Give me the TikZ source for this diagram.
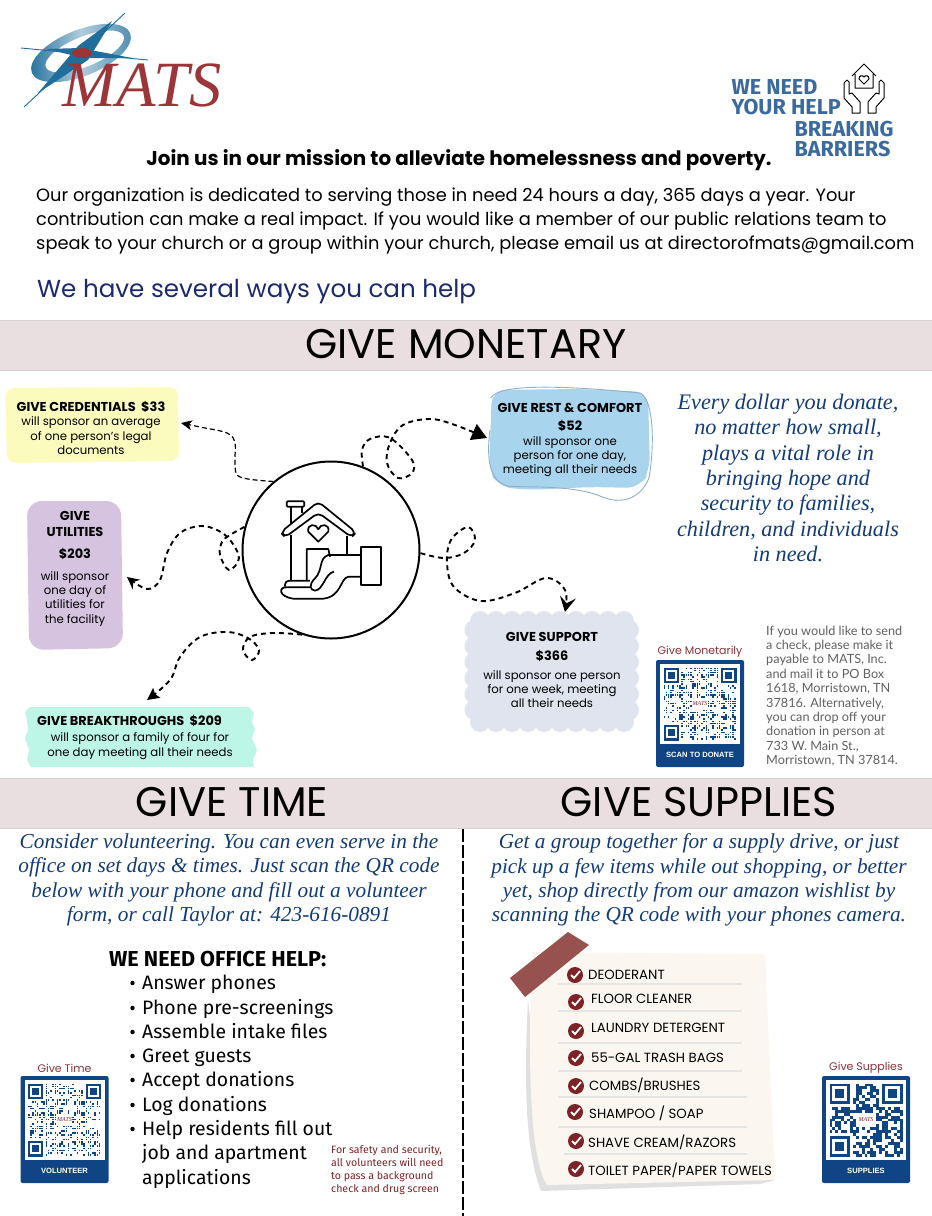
\documentclass[tikz,border=0pt]{standalone}
\usepackage{fontspec}
\setmainfont{Poppins}
\newfontfamily\handfont{Liberation Serif}
\newfontfamily\officefont{Fira Sans}
\newfontfamily\checkfont{Lato}
\newfontfamily\capfont{Liberation Sans}
\usetikzlibrary{arrows.meta}

\definecolor{bandpink}{HTML}{E9DEE0}
\definecolor{bandline}{HTML}{D4D2D3}
\definecolor{navy}{HTML}{123B78}
\definecolor{waysblue}{HTML}{1B2A6E}
\definecolor{logoblue}{HTML}{3A6A9E}
\definecolor{ringblue}{HTML}{1F6E9C}
\definecolor{qrblue}{HTML}{0F4585}
\definecolor{maroon}{HTML}{8A3238}
\definecolor{matsred}{HTML}{9C3537}
\definecolor{tapered}{HTML}{97514F}
\definecolor{paper}{HTML}{FBF7F0}
\definecolor{checkred}{HTML}{7D2328}
\definecolor{credyellow}{HTML}{FBFBBE}
\definecolor{utilpurple}{HTML}{D5C3E0}
\definecolor{mintgreen}{HTML}{BDF5E6}
\definecolor{restblue}{HTML}{A8D4EE}
\definecolor{cloudgrey}{HTML}{DFE4EF}

\newcommand{\boxhead}[1]{{\bfseries\fontsize{12.9}{15}\selectfont #1}}

\tikzset{
    band/.style = {fill = bandpink, draw = bandline, line width = 1pt},
    bandtext/.style = {font = \fontsize{41.4}{48}\selectfont, text = black},
    boxtext/.style = {font = \fontsize{11.7}{14.2}\selectfont, align = center, text = black},
    handtext/.style = {font = \handfont\itshape\fontsize{22.2}{25.3}\selectfont, align = center, text = navy},
    handwide/.style = {font = \handfont\itshape\fontsize{21.3}{24.3}\selectfont, align = center, text = navy},
    logotext/.style = {font = \officefont\bfseries\fontsize{21.6}{21}\selectfont, text = logoblue, anchor = west},
    dashpath/.style = {draw = black, line width = 1.9pt, dash pattern = on 5pt off 4pt},
    thinpath/.style = {draw = black, line width = 1.2pt, dash pattern = on 5pt off 3pt},
    iconline/.style = {draw = black, line width = 1.7pt, line join = round, fill = none},
    needle/.style = {draw = ringblue, line width = 0.9pt},
}

\newcommand{\qrfinder}[3]{%
    \fill[qrblue] (#1,#2) rectangle ++(7*#3,7*#3);
    \fill[white] (#1+#3,#2+#3) rectangle ++(5*#3,5*#3);
    \fill[qrblue] (#1+2*#3,#2+2*#3) rectangle ++(3*#3,3*#3);
}

% name, x, y, title, caption, seed, modules, density, dot size
\newcommand{\qrcard}[9]{%
    \fill[qrblue, rounded corners = 2pt] (#2,#3) rectangle ++(88,107);
    \fill[white] (#2+4,#3+4) rectangle ++(80,80);
    \pgfmathsetseed{#6}
    \pgfmathsetmacro{\qrm}{73/#7}
    \foreach \r in {0,...,\numexpr#7-1\relax} {
        \foreach \c in {0,...,\numexpr#7-1\relax} {
            \pgfmathtruncatemacro{\qrdot}{(rnd<#8)&&!((\r<8&&\c<8)||(\r<8&&\c>#7-9)||(\r>#7-9&&\c<8)||(abs(\r-(#7-1)/2)<3&&abs(\c-(#7-1)/2)<4))}
            \ifnum\qrdot=1
                \fill[qrblue] (#2+7.5+\c*\qrm,#3+7.5+\r*\qrm) rectangle ++(\qrm*#9,\qrm*#9);
            \fi
        }
    }
    \qrfinder{#2+7.5}{#3+7.5}{\qrm}
    \qrfinder{#2+80.5-7*\qrm}{#3+7.5}{\qrm}
    \qrfinder{#2+7.5}{#3+80.5-7*\qrm}{\qrm}
    \node (#1logo) at (#2+44,#3+44) [font = \handfont\itshape\fontsize{6}{6}\selectfont, text = checkred, inner sep = 0pt] {MATS};
    \node (#1title) at (#2+44,#3-8) [font = \fontsize{11}{13}\selectfont, text = maroon, inner sep = 0pt] {#4};
    \node (#1cap) at (#2+44,#3+95) [font = \capfont\bfseries\fontsize{7.6}{9}\selectfont, text = white, inner sep = 0pt] {#5};
}

\begin{document}
\begin{tikzpicture}[x = 1pt, y = -1pt]

    \useasboundingbox (0, 0) rectangle (932, 1216);

    % logo
    \shade[even odd rule, left color = ringblue, right color = ringblue!80!white, middle color = ringblue!35!white, rotate around = {22:(81,53)}] (81,53) ellipse (53 and 23) (85,53) ellipse (42 and 15);
    \draw[needle] (125,13) -- (24,107);
    \draw[needle] (21,48) -- (148,60);
    \fill[ringblue] (78,46) -- (112,21) -- (88,60) -- (38,93) -- cycle;
    \fill[ringblue] (46,49) -- (80,48) -- (132,58) -- (84,58) -- cycle;
    \fill[matsred] (82,53) ellipse (10 and 5);
    \node (matslogo) at (142,85) [font = \handfont\itshape\fontsize{64.5}{64}\selectfont, text = matsred, inner sep = 0pt] {MATS};

    \node (needa) at (728,87) [logotext] {WE NEED};
    \node (needb) at (728,107) [logotext] {YOUR HELP};
    \node (breaka) at (791,129) [logotext] {BREAKING};
    \node (breakb) at (791,149) [logotext] {BARRIERS};
    \draw[black, line width = 1pt, line join = round] (852,76) -- (864,64) -- (876,76) (855,74) -- (855,88) -- (873,88) -- (873,74);
    \draw[black, line width = 1pt] (864,84) -- (859,79) .. controls (859,75) and (863,75) .. (864,77) .. controls (865,75) and (869,75) .. (869,79) -- cycle;
    \draw[black, line width = 1pt, line join = round] (847,80) -- (844,83) -- (844,98) -- (852,107) -- (852,113) -- (860,113) -- (860,102) -- (852,93) -- (849,94) -- (849,82) -- cycle;
    \draw[black, line width = 1pt, line join = round] (881,80) -- (884,83) -- (884,98) -- (876,107) -- (876,113) -- (868,113) -- (868,102) -- (876,93) -- (879,94) -- (879,82) -- cycle;

    % heading
    \node (mission) at (459,160) [font = \bfseries\fontsize{19.9}{24}\selectfont, inner sep = 0pt] {Join us in our mission to alleviate homelessness and poverty.};
    \node (intro) at (36,221) [anchor = west, align = left, inner sep = 0pt, font = \fontsize{17.83}{24}\selectfont] {Our organization is dedicated to serving those in need 24 hours a day, 365 days a year. Your\\contribution can make a real impact. If you would like a member of our public relations team to\\speak to your church or a group within your church, please email us at directorofmats@gmail.com};
    \node (ways) at (37,292) [anchor = west, inner sep = 0pt, text = waysblue, font = \fontsize{24.6}{28}\selectfont] {We have several ways you can help};

    % bands
    \fill[band] (-2,320) rectangle (934,370);
    \node (monetary) at (466,344) [bandtext] {GIVE MONETARY};
    \fill[band] (-2,778) rectangle (934,828);
    \node (time) at (232,802) [bandtext] {GIVE TIME};
    \node (supplies) at (699,802) [bandtext] {GIVE SUPPLIES};

    % boxes
    \fill[credyellow, rounded corners = 9pt] (5,388) -- (178,387) -- (179,461) -- (7,463) -- cycle;
    \fill[utilpurple, rounded corners = 15pt] (27,501) -- (121,501) -- (123,648) -- (29,650) -- cycle;
    \fill[mintgreen] (30,707) -- (249,707) -- (254,713) -- (252,722) -- (255,729) -- (252,738) -- (257,750) -- (253,760) -- (254,767) -- (31,767) -- (27,760) -- (29,750) -- (25,738) -- (28,730) -- (27,720) -- (25,712) -- cycle;
    \fill[restblue, rounded corners = 14pt] (492,390) -- (580,389) -- (648,392) -- (650,470) -- (640,488) -- (590,487) -- (530,490) -- (498,487) -- (489,470) -- cycle;
    \draw[logoblue!55!white, line width = 0.9pt] (491,398) .. controls (497,384) and (560,385) .. (640,393) .. controls (655,400) and (654,450) .. (649,478) .. controls (640,500) and (620,505) .. (600,496) .. controls (570,484) and (520,488) .. (508,486) .. controls (490,482) and (486,460) .. (490,430);
    \fill[cloudgrey] (475,620) rectangle (630,722);
    \foreach \cx in {480,496,...,624} {
        \fill[cloudgrey] (\cx,621) circle (10);
        \fill[cloudgrey] (\cx,722) circle (10);
    }
    \foreach \cy in {630,646,...,716} {
        \fill[cloudgrey] (474.5,\cy) circle (10);
        \fill[cloudgrey] (629,\cy) circle (10);
    }

    \node (credbox) at (91,428) [boxtext] {\boxhead{GIVE CREDENTIALS\ \ \$33}\\will sponsor an average\\of one person's legal\\documents};
    \node (utilbox) at (75,569) [boxtext] {\boxhead{GIVE}\\[1pt]\boxhead{UTILITIES}\\[8pt]\boxhead{\$203}\\[8pt]will sponsor\\one day of\\utilities for\\the facility};
    \node (breaktitle) at (37,721) [boxtext, anchor = west, inner sep = 0pt] {\boxhead{GIVE BREAKTHROUGHS\ \ \$209}};
    \node (breakbox) at (140,746) [boxtext] {will sponsor a family of four for\\one day meeting all their needs};
    \node (restbox) at (570,440) [boxtext] {\boxhead{GIVE REST \& COMFORT}\\[4pt]\boxhead{\$52}\\[1pt]will sponsor one\\person for one day,\\meeting all their needs};
    \node (suppbox) at (552,670) [boxtext] {\boxhead{GIVE SUPPORT}\\[5pt]\boxhead{\$366}\\[5pt]will sponsor one person\\for one week, meeting\\all their needs};

    % hub
    \node (hub) at (331,550) [circle, draw, line width = 2pt, minimum size = 177pt, inner sep = 0pt] {};
    \begin{scope}[shift = {(0,370)}, scale = 1/3]
        \draw[iconline, rounded corners = 5pt] (842,487) -- (955,395) -- (1068,487) -- (1055,502) -- (955,428) -- (855,502) -- cycle;
        \draw[iconline, rounded corners = 1pt] (860,394) rectangle (913,410);
        \draw[iconline] (872,410) -- (872,458) (905,410) -- (905,428);
        \draw[iconline] (872,495) -- (872,630) (1040,497) -- (1040,552);
        \draw[iconline] (955,515) -- (925,485) .. controls (920,460) and (950,460) .. (955,478) .. controls (960,460) and (990,460) .. (985,485) -- cycle;
        \draw[iconline] (920,632) -- (920,537) -- (985,537) -- (990,560);
        \draw[iconline] (1082,530) rectangle (1143,645);
        \draw[iconline] (1080,555) -- (985,555) .. controls (955,565) and (970,600) .. (945,625) .. controls (925,645) and (930,660) .. (945,662) .. controls (970,660) and (975,610) .. (1002,605);
        \draw[iconline] (1080,620) -- (1045,620) .. controls (1020,625) and (1025,680) .. (970,686) -- (880,686) .. controls (835,680) and (835,650) .. (860,652) -- (930,652);
        \draw[iconline, rounded corners = 4pt] (855,650) -- (855,632) -- (930,632);
    \end{scope}

    % connectors
    \coordinate (tipcred) at (181,423);
    \coordinate (tiputil) at (127,577);
    \coordinate (tipbreak) at (147,700);
    \coordinate (tiprest) at (487,438);
    \coordinate (tipsupp) at (565,612);

    \draw[thinpath, -{Stealth[length = 11pt, width = 10pt, inset = 3pt]}] plot[smooth, tension = 0.6] coordinates {(hub.130) (240,477) (235,463) (235,443) (227,433) (200,427) (tipcred)};
    \draw[dashpath, -{Stealth[length = 12pt, width = 12pt, inset = 4pt]}] plot[smooth, tension = 0.6] coordinates {(hub.165) (230,535) (222,542) (220,555) (229,570) (239,558) (230,540) (217,530) (200,526) (180,533) (167,553) (160,580) (147,589) (tiputil)};
    \draw[dashpath, -{Stealth[length = 12pt, width = 12pt, inset = 2pt]}] plot[smooth, tension = 0.6] coordinates {(hub.251) (273,633) (250,637) (243,650) (252,660) (259,650) (248,638) (227,632) (200,637) (180,657) (170,680) (tipbreak)};
    \draw[dashpath, -{Triangle[length = 15pt, width = 17pt]}] plot[smooth, tension = 0.6] coordinates {(hub.69) (362,450) (370,439) (390,438) (412,460) (412,473) (398,478) (387,463) (390,443) (403,425) (430,419) (455,425) (tiprest)};
    \draw[dashpath, -{Stealth[length = 15pt, width = 16pt, inset = 6pt]}] plot[smooth, tension = 0.6] coordinates {(hub.358) (444,558) (464,553) (475,540) (468,527) (451,540) (447,563) (454,587) (481,601) (515,593) (546,578) (565,590) (tipsupp)};

    % give monetary side
    \node (dollar) at (788,478) [handtext] {Every dollar you donate,\\no matter how small,\\plays a vital role in\\bringing hope and\\security to families,\\children, and individuals\\in need.};
    \qrcard{qrmoney}{656}{660}{Give Monetarily}{SCAN TO DONATE}{7}{33}{0.42}{0.7}
    \node (check) at (766,696) [anchor = west, align = left, inner sep = 0pt, text = black!62, font = \checkfont\fontsize{12.7}{14.35}\selectfont] {If you would like to send\\a check, please make it\\payable to MATS, Inc.\\and mail it to PO Box\\1618, Morristown, TN\\37816. Alternatively,\\you can drop off your\\donation in person at\\733 W. Main St.,\\Morristown, TN 37814.};

    % give time
    \node (timetext) at (229,880) [handwide] {Consider volunteering. You can even serve in the\\office on set days \& times. Just scan the QR code\\below with your phone and fill out a volunteer\\form, or call Taylor at: 423-616-0891};
    \node (office) at (109,959) [anchor = west, inner sep = 0pt, font = \officefont\bfseries\fontsize{21.6}{24}\selectfont] {WE NEED OFFICE HELP:};
    \foreach \i/\liney/\dotted/\txt in {1/983/1/Answer phones, 2/1008/1/Phone pre-screenings, 3/1032/1/Assemble intake files, 4/1056/1/Greet guests, 5/1080/1/Accept donations, 6/1105/1/Log donations, 7/1129/1/Help residents fill out, 8/1153/0/job and apartment, 9/1178/0/applications} {
        \node (help\i) at (142,\liney+6) [anchor = base west, inner sep = 0pt, font = \officefont\fontsize{19.4}{22}\selectfont] {\txt};
        \ifnum\dotted=1 \fill[black] (132.5,\liney) circle (2.2); \fi
    }
    \node (safety) at (331,1170) [anchor = west, align = left, inner sep = 0pt, text = checkred, font = \officefont\fontsize{10.6}{12.7}\selectfont] {For safety and security,\\all volunteers will need\\to pass a background\\check and drug screen};
    \qrcard{qrtime}{20.5}{1076}{Give Time}{VOLUNTEER}{11}{33}{0.38}{0.7}

    % divider
    \coordinate (divtop) at (463,829);
    \coordinate (divbot) at (463,1216);
    \draw[black, line width = 2pt, dash pattern = on 13pt off 3pt] (divtop) -- (divbot);

    % give supplies
    \node (supptext) at (699,880) [handwide] {Get a group together for a supply drive, or just\\pick up a few items while out shopping, or better\\yet, shop directly from our amazon wishlist by\\scanning the QR code with your phones camera.};

    \fill[black!12] (528,1000) .. controls (524,1080) and (525,1150) .. (541,1191) -- (760,1184) -- (775,1180) -- (547,1170) -- cycle;
    \fill[paper] (532,952) -- (765,954) -- (775,1180) -- (547,1185) .. controls (534,1165) and (526,1100) .. (532,952) -- cycle;
    \fill[tapered] (568,932) -- (589,945) -- (525,997) -- (510,978) -- cycle;

    \foreach \xa/\xb/\liney in {558/742/984, 558/742/1011, 558/742/1043, 558/742/1071, 558/747/1097, 558/747/1127, 564/747/1154} {
        \draw[black!10, line width = 1.2pt] (\xa,\liney) -- (\xb,\liney);
    }
    \foreach \i/\cx/\cy/\tx/\ty/\txt in {1/575/975/588/975/{DEODERANT}, 2/576/1002/591/999/{FLOOR CLEANER}, 3/576/1031/591/1028/{LAUNDRY DETERGENT}, 4/576/1058/591/1058/{55-GAL TRASH BAGS}, 5/576/1086/589/1085/{COMBS/BRUSHES}, 6/575/1112/589/1113/{SHAMPOO / SOAP}, 7/576/1141/588/1142/{SHAVE CREAM/RAZORS}, 8/576/1169/588/1170/{TOILET PAPER/PAPER TOWELS}} {
        \node (chk\i) at (\cx,\cy) [circle, fill = checkred, minimum size = 16pt, inner sep = 0pt] {};
        \draw[white, line width = 1.8pt] (\cx-4,\cy) -- ++(3,3) -- ++(6,-7);
        \node (item\i) at (\tx,\ty) [anchor = west, inner sep = 0pt, font = \fontsize{13.3}{15}\selectfont] {\txt};
    }
    \qrcard{qrsupply}{822}{1076}{Give Supplies}{SUPPLIES}{23}{25}{0.55}{1}

\end{tikzpicture}
\end{document}
